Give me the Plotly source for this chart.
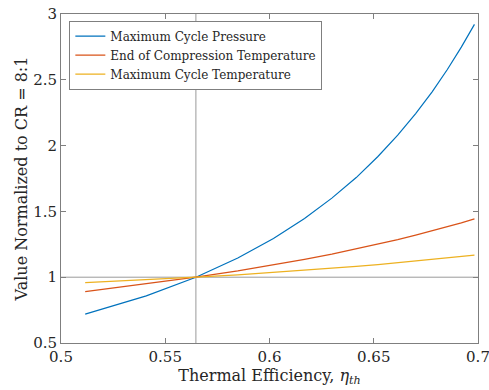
import plotly.graph_objects as go

# Thermal efficiency for compression ratios 6:1 ... 20:1
efficiency = [0.5116, 0.5409, 0.5647, 0.5848, 0.6019, 0.6168, 0.6299, 0.6416,
              0.6520, 0.6615, 0.6701, 0.6780, 0.6853, 0.6920, 0.6983]

# Values normalized to the CR = 8:1 case
max_cycle_pressure = [0.719, 0.858, 1.000, 1.146, 1.294, 1.446, 1.601, 1.757,
                      1.917, 2.079, 2.243, 2.409, 2.578, 2.748, 2.921]
end_compression_temp = [0.891, 0.948, 1.000, 1.048, 1.093, 1.136, 1.176, 1.215,
                        1.251, 1.286, 1.320, 1.352, 1.383, 1.413, 1.443]
max_cycle_temp = [0.959, 0.980, 1.000, 1.018, 1.036, 1.052, 1.067, 1.082,
                  1.095, 1.109, 1.121, 1.134, 1.146, 1.157, 1.168]

series_names = ["Maximum Cycle Pressure", "End of Compression Temperature",
                "Maximum Cycle Temperature"]
colors = ["#0072BD", "#D95319", "#EDB120"]

x_ticks = [0.5, 0.55, 0.6, 0.65, 0.7]
x_tick_text = ["0.5", "0.55", "0.6", "0.65", "0.7"]
y_ticks = [0.5, 1, 1.5, 2, 2.5, 3]
y_tick_text = ["0.5", "1", "1.5", "2", "2.5", "3"]

REF = 2  # index of the CR = 8:1 reference point

FONT = "DejaVu Serif"
AXIS_COLOR = "#262626"

fig = go.Figure()
for name, ys, c in zip(series_names,
                       [max_cycle_pressure, end_compression_temp, max_cycle_temp],
                       colors):
    fig.add_trace(go.Scatter(x=efficiency, y=ys, mode="lines", name=name,
                             line=dict(color=c, width=1.2)))

# Reference cross-hair through the CR = 8:1 point
fig.add_shape(type="line", xref="x", yref="paper",
              x0=efficiency[REF], x1=efficiency[REF], y0=0, y1=1,
              line=dict(color="#9a9a9a", width=1), layer="below")
fig.add_shape(type="line", xref="paper", yref="y",
              x0=0, x1=1, y0=max_cycle_pressure[REF], y1=max_cycle_pressure[REF],
              line=dict(color="#9a9a9a", width=1), layer="below")

axis_common = dict(showgrid=False, zeroline=False, showline=True, mirror="ticks",
                   linecolor="#7f7f7f", linewidth=1, ticks="inside", ticklen=5,
                   tickcolor="#7f7f7f", automargin=False,
                   ticklabeloverflow="allow",
                   tickfont=dict(family=FONT, size=15, color=AXIS_COLOR))

fig.update_xaxes(range=[0.5, 0.7], tickvals=x_ticks, ticktext=x_tick_text,
                 title=dict(text="Thermal Efficiency, <i>η</i><sub><i>th</i></sub>",
                            font=dict(family=FONT, size=16, color=AXIS_COLOR),
                            standoff=2),
                 **axis_common)
fig.update_yaxes(range=[0.5, 3], tickvals=y_ticks, ticktext=y_tick_text,
                 title=dict(text="Value Normalized to CR = 8:1",
                            font=dict(family=FONT, size=16, color=AXIS_COLOR),
                            standoff=1),
                 **axis_common)

fig.update_layout(
    width=489, height=390,
    margin=dict(l=61, r=11, t=14, b=47, autoexpand=False),
    paper_bgcolor="white", plot_bgcolor="white",
    legend=dict(x=0.02, y=0.98, xanchor="left", yanchor="top",
                bgcolor="white", bordercolor="#7f7f7f", borderwidth=1,
                font=dict(family=FONT, size=12, color=AXIS_COLOR),
                tracegroupgap=0, itemwidth=30),
    showlegend=True,
)

fig.write_html("out.html")
